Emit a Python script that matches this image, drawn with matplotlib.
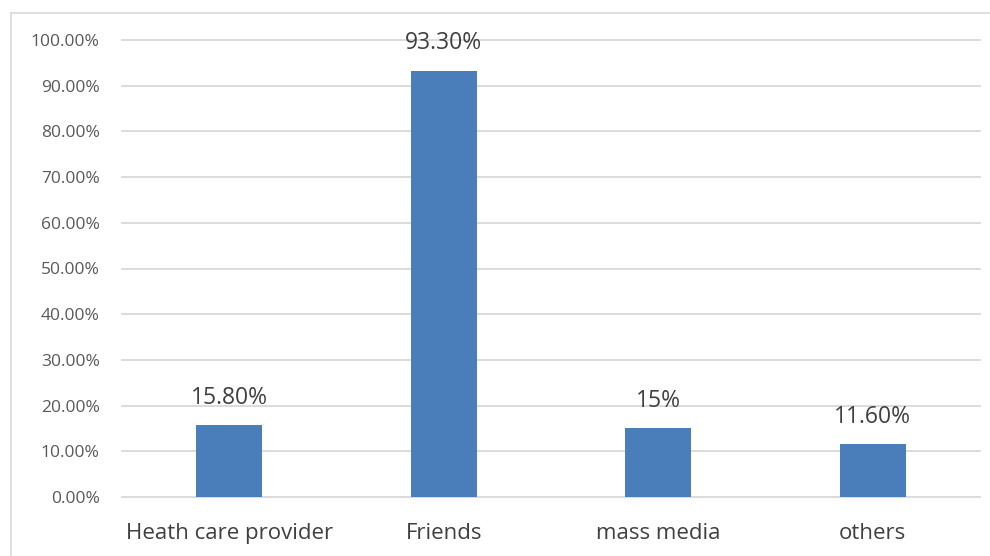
import matplotlib
matplotlib.use("Agg")
import matplotlib.pyplot as plt
from matplotlib.lines import Line2D
from matplotlib.ticker import FuncFormatter

categories = ["Heath care provider", "Friends", "mass media", "others"]
values = [15.8, 93.3, 15.0, 11.6]
value_labels = ["15.80%", "93.30%", "15%", "11.60%"]

plt.rcParams['font.family'] = ['Open Sans', 'DejaVu Sans']

fig = plt.figure(figsize=(9.9, 5.56), dpi=100)
ax = fig.add_axes([122/990, 1-497/556, (980-122)/990, (497-40)/556])

x = list(range(len(categories)))
bars = ax.bar(x, values, width=0.31, color="#4a7ebb", zorder=3)
ax.set_xlim(-0.5, len(categories)-0.5)
ax.set_ylim(0, 100)
ax.set_yticks([i*10 for i in range(11)])
ax.yaxis.set_major_formatter(FuncFormatter(lambda v, p: f"{v:.2f}%"))
ax.set_xticks(x)
ax.set_xticklabels(categories, fontsize=16, color="#404040")
ax.tick_params(axis='x', length=0, pad=19)
ax.tick_params(axis='y', length=0, pad=16, labelsize=12.5, labelcolor="#595959")
ax.grid(axis='y', color="#d9d9d9", linewidth=1.3, zorder=0)
for gl in ax.get_ygridlines():
    gl.set_clip_on(False)
for s in ax.spines.values():
    s.set_visible(False)

for xi, v, lab in zip(x, values, value_labels):
    ax.annotate(lab, (xi, v), xytext=(0, 11), textcoords="offset points",
                ha="center", va="bottom", fontsize=16.5, color="#404040")

fig.add_artist(Line2D([10.5/990, 10.5/990], [0, 1-13/556], transform=fig.transFigure,
                      color="#d9d9d9", linewidth=1.2))
fig.add_artist(Line2D([10.5/990, 1], [1-13/556, 1-13/556], transform=fig.transFigure,
                      color="#d9d9d9", linewidth=1.2))

fig.savefig("out.png", dpi=100)
